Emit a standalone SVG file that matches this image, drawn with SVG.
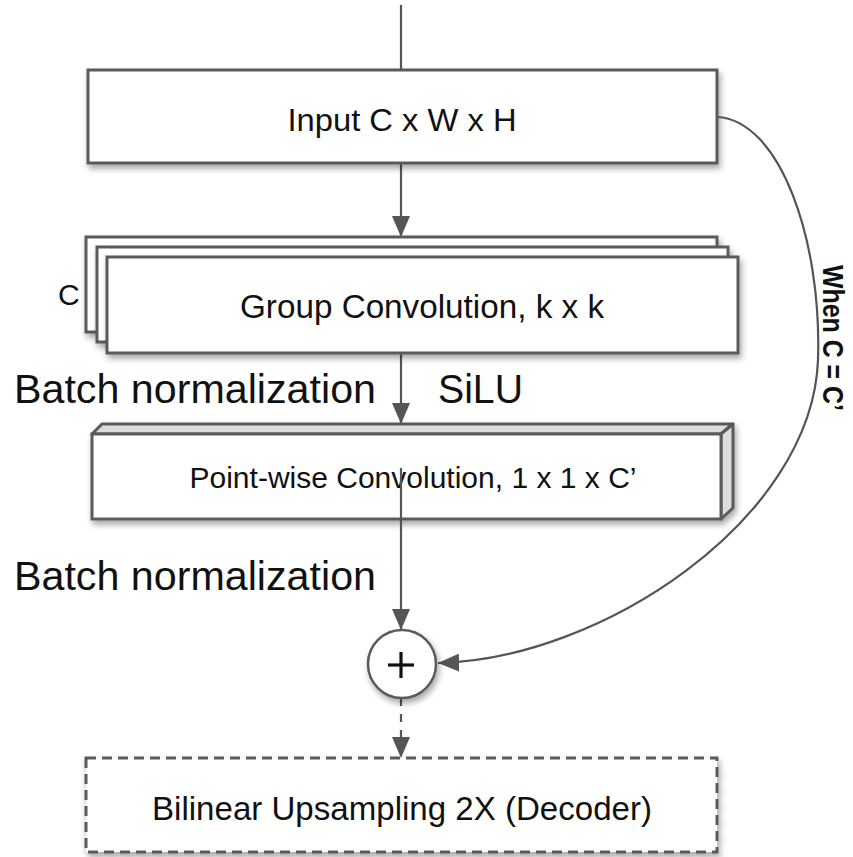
<svg xmlns="http://www.w3.org/2000/svg" width="853" height="857" viewBox="0 0 853 857">
  <style>
    .box { fill: #ffffff; stroke: #5a5a5a; stroke-width: 3; }
    .side { fill: #dcdcdc; stroke: #5a5a5a; stroke-width: 3; stroke-linejoin: round; }
    .dashed { fill: #ffffff; stroke: #5a5a5a; stroke-width: 3; stroke-dasharray: 10 6; }
    .link { fill: none; stroke: #555555; stroke-width: 2.2; }
    .label { font-family: "Liberation Sans", Arial, sans-serif; fill: #111111; }
  </style>
  <defs>
    <filter id="shadow" x="-10%" y="-20%" width="125%" height="150%">
      <feDropShadow dx="2" dy="4" stdDeviation="3" flood-color="#000000" flood-opacity="0.35"/>
    </filter>
    <marker id="arrow" markerUnits="userSpaceOnUse" markerWidth="21" markerHeight="18" refX="21" refY="9" orient="auto">
      <path d="M0,0 L21,9 L0,18 Z" fill="#555555"/>
    </marker>
  </defs>

  <!-- connectors -->
  <g id="connectors">
    <line class="link" x1="401" y1="5" x2="401" y2="70"/>
    <line class="link" x1="401" y1="163" x2="401" y2="237" marker-end="url(#arrow)"/>
    <line class="link" x1="401" y1="353" x2="401" y2="424" marker-end="url(#arrow)"/>
    <line class="link" x1="401" y1="698" x2="401" y2="758" stroke-dasharray="8 8" marker-end="url(#arrow)"/>
  </g>

  <!-- input block -->
  <g id="input" filter="url(#shadow)">
    <rect class="box" x="88" y="70" width="629" height="93"/>
  </g>
  <text class="label" x="402" y="131" font-size="32" text-anchor="middle" textLength="229" lengthAdjust="spacingAndGlyphs">Input C x W x H</text>

  <!-- stacked group convolution -->
  <g id="group-conv">
    <rect class="box" x="86" y="237" width="631" height="95" filter="url(#shadow)"/>
    <rect class="box" x="97" y="247" width="631" height="95" filter="url(#shadow)"/>
    <rect class="box" x="107" y="257" width="631" height="96" filter="url(#shadow)"/>
    <text class="label" x="422" y="318" font-size="33" text-anchor="middle" textLength="364" lengthAdjust="spacingAndGlyphs">Group Convolution, k x k</text>
  </g>
  <text class="label" x="58" y="305" font-size="30">C</text>

  <!-- point-wise convolution slab -->
  <g id="pointwise-conv">
    <g filter="url(#shadow)">
      <polygon class="side" points="92,434 102,424 733,424 721,434"/>
      <polygon class="side" points="721,434 733,424 733,508 721,519"/>
      <rect class="box" x="92" y="434" width="629" height="85"/>
    </g>
    <text class="label" x="413" y="488" font-size="30" text-anchor="middle" textLength="447" lengthAdjust="spacingAndGlyphs">Point-wise Convolution, 1 x 1 x C’</text>
  </g>

  <!-- main path through the slab and the residual skip -->
  <g id="connectors-2">
    <line class="link" x1="401" y1="468" x2="401" y2="630" marker-end="url(#arrow)"/>
    <path class="link" d="M717,117 C780,120 822,240 818,360 C812,520 600,660 438,663" marker-end="url(#arrow)"/>
  </g>

  <!-- side labels -->
  <text class="label" x="14" y="403" font-size="40" textLength="362" lengthAdjust="spacingAndGlyphs">Batch normalization</text>
  <text class="label" x="438" y="403" font-size="40" textLength="85" lengthAdjust="spacingAndGlyphs">SiLU</text>
  <text class="label" x="14" y="590" font-size="40" textLength="362" lengthAdjust="spacingAndGlyphs">Batch normalization</text>
  <text class="label" x="823" y="265" font-size="29" font-weight="bold" transform="rotate(90 823 265)" textLength="146" lengthAdjust="spacingAndGlyphs">When C = C’</text>

  <!-- sum node -->
  <g id="sum" filter="url(#shadow)">
    <circle cx="402" cy="664" r="34" fill="#ffffff" stroke="#5a5a5a" stroke-width="2.5"/>
  </g>
  <g id="sum-sign" stroke="#111111" stroke-width="3.2">
    <line x1="388" y1="665" x2="414" y2="665"/>
    <line x1="401" y1="652" x2="401" y2="678"/>
  </g>

  <!-- decoder block -->
  <g id="decoder" filter="url(#shadow)">
    <rect class="dashed" x="86" y="758" width="631" height="94"/>
  </g>
  <text class="label" x="402" y="820" font-size="33" text-anchor="middle" textLength="500" lengthAdjust="spacingAndGlyphs">Bilinear Upsampling 2X (Decoder)</text>
</svg>
